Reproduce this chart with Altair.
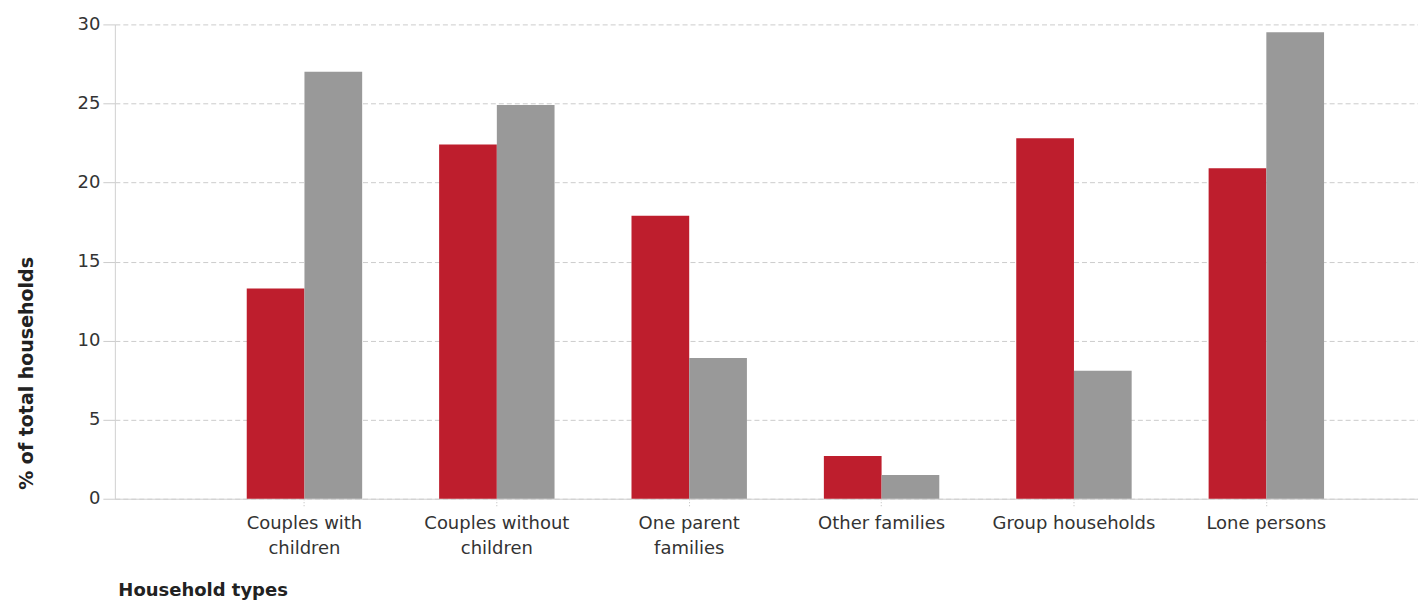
import altair as alt
import pandas as pd

categories = ["Couples with children", "Couples without children", "One parent families",
              "Other families", "Group households", "Lone persons"]
series = ["Area", "Comparison"]
values_area = [13.3, 22.4, 17.9, 2.7, 22.8, 20.9]
values_comp = [27.0, 24.9, 8.9, 1.5, 8.1, 29.5]
colors = ["#BE1E2D", "#999999"]
y_ticks = [0, 5, 10, 15, 20, 25, 30]

rows = []
for c, a, b in zip(categories, values_area, values_comp):
    rows.append({"type": c, "series": series[0], "pct": a})
    rows.append({"type": c, "series": series[1], "pct": b})
df = pd.DataFrame(rows)

label_expr = (
    "datum.label == 'Couples with children' ? ['Couples with', 'children'] : "
    "datum.label == 'Couples without children' ? ['Couples without', 'children'] : "
    "datum.label == 'One parent families' ? ['One parent', 'families'] : datum.label"
)

FONT = "DejaVu Sans"

chart = alt.Chart(df).mark_bar().encode(
    x=alt.X("type:N", sort=categories,
            scale=alt.Scale(paddingInner=0.4, paddingOuter=0.587, align=0.584),
            axis=alt.Axis(title="Household types", labelAngle=0, labelExpr=label_expr,
                          labelFont=FONT, labelFontSize=18, labelColor="#333333",
                          labelLineHeight=25, labelBaseline="top",
                          tickSize=8, labelPadding=8, tickColor="#bbbbbb", tickDash=[1, 2],
                          domainColor="#d0d0d0", grid=False,
                          titleFont=FONT, titleFontSize=18, titleFontWeight="bold",
                          titleColor="#222222", titleAnchor="start", titleAlign="left",
                          titleX=3, titleY=97, titleBaseline="alphabetic")),
    xOffset=alt.XOffset("series:N", sort=series, scale=alt.Scale(paddingInner=0, paddingOuter=0)),
    y=alt.Y("pct:Q", scale=alt.Scale(domain=[0, 30], nice=False),
            axis=alt.Axis(title="% of total households", values=y_ticks,
                          labelFont=FONT, labelFontSize=18, labelColor="#333333",
                          tickSize=12, labelPadding=3, tickColor="#cccccc",
                          domainColor="#d0d0d0",
                          grid=True, gridColor="#cccccc", gridDash=[5, 3],
                          titleFont=FONT, titleFontSize=19, titleFontWeight="bold",
                          titleColor="#222222", titleAngle=-90, titleAlign="center",
                          titleBaseline="middle", titleX=-88, titleY=349)),
    color=alt.Color("series:N", sort=series,
                    scale=alt.Scale(domain=series, range=colors), legend=None),
).properties(
    width=1305, height=475,
    autosize=alt.AutoSizeParams(type="none"),
    padding={"left": 107, "top": 16, "right": 0, "bottom": 102},
).configure_view(stroke=None)

chart.save("out.html", embed_options={"renderer": "svg", "actions": False})
